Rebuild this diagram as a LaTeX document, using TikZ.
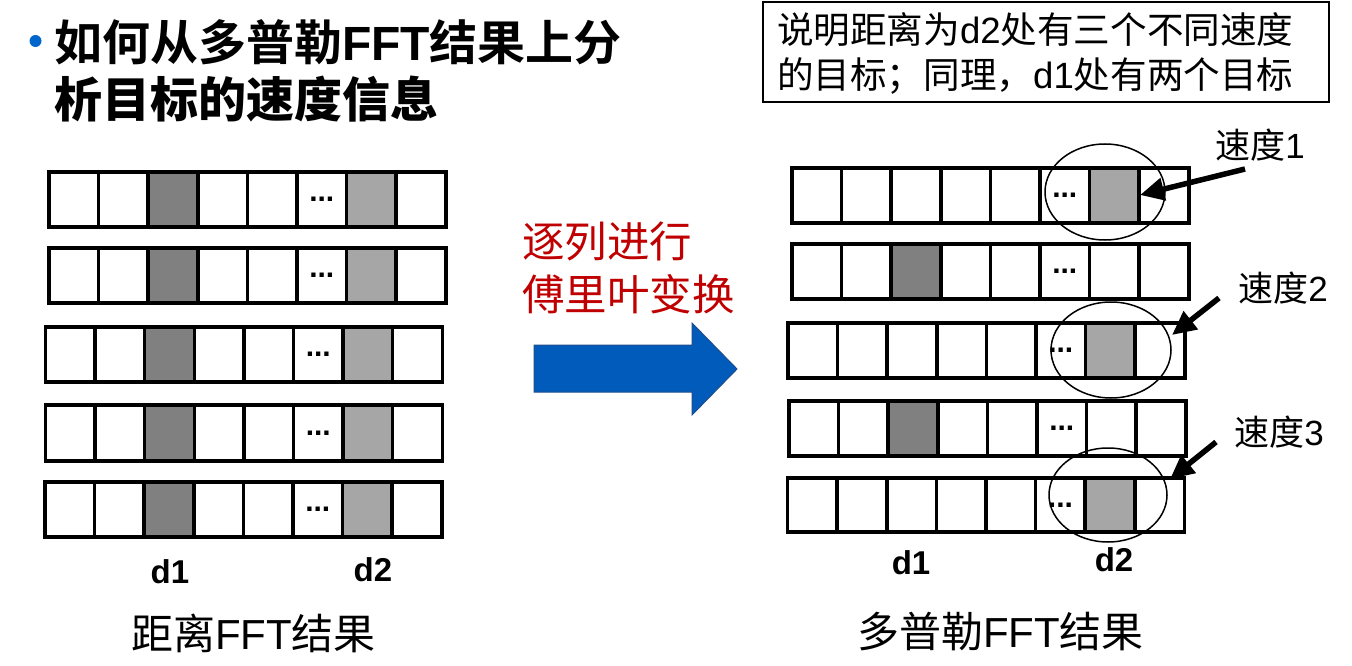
\documentclass[tikz,border=0pt]{standalone}
\usepackage{fontspec}
\setmainfont{Liberation Sans}
\newfontfamily\zh{Noto Sans CJK SC}
\newfontfamily\zhheavy{Noto Sans CJK SC Black}
\usetikzlibrary{arrows.meta,shapes.geometric}
\definecolor{dgray}{RGB}{128,128,128}
\definecolor{lgray}{RGB}{166,166,166}
\definecolor{arrowblue}{RGB}{0,91,187}
\definecolor{arrowedge}{RGB}{31,78,140}
\definecolor{bulletblue}{RGB}{0,102,204}
\definecolor{txtred}{RGB}{192,0,0}
\begin{document}
\begin{tikzpicture}[x=1pt,y=-1pt,
  txt/.style={inner sep=0pt,outer sep=0pt},
  gridline/.style={line width=3.5pt},
  dotsnode/.style={inner sep=0pt,font=\bfseries\fontsize{30}{30}\selectfont},
  ring/.style={ellipse,draw,line width=1.5pt,inner sep=0pt},
  pointer/.style={line width=5.5pt,-{Triangle[length=24pt,width=22pt]}},
  dlabel/.style={txt,font=\bfseries\fontsize{33}{36}\selectfont},
  vlabel/.style={txt,font=\fontsize{35}{40}\selectfont}]
\useasboundingbox (0,0) rectangle (1352,666);
\fill[white] (0,0) rectangle (1352,666);

% ---------- title ----------
\node[circle,fill=bulletblue,minimum size=12pt,inner sep=0pt] (bul) at (35.5,41) {};
\node[txt,anchor=west] (title1) at (54,42)
  {\fontsize{48}{58}\selectfont\bfseries{\zhheavy 如何从多普勒}FFT{\zhheavy 结果上分}};
\node[txt,anchor=west] (title2) at (54,99)
  {\fontsize{48}{58}\selectfont{\zhheavy 析目标的速度信息}};

% ---------- grids ----------
\def\cw{49.6}
\foreach \x/\ya/\yb/\dk/\lt [count=\r] in {
   49/172/227/2/6, 49/248/303/2/6, 45.5/327/382/2/6, 45.5/405/461/2/6, 45/482/537/2/6,
   792/168/223/-1/6, 792/244/299/2/-1, 788/323/378/-1/6, 789/401/456/2/-1, 787.6/478/532/-1/6}{
  \ifnum\dk>-1 \fill[dgray] (\x+\dk*\cw,\ya) rectangle (\x+\dk*\cw+\cw,\yb); \fi
  \ifnum\lt>-1 \fill[lgray] (\x+\lt*\cw,\ya) rectangle (\x+\lt*\cw+\cw,\yb); \fi
  \draw[gridline] (\x,\ya) rectangle (\x+8*\cw,\yb);
  \foreach \i in {1,...,7}{
    \draw[gridline] (\x+\i*\cw,\ya) -- (\x+\i*\cw,\yb);
  }
  \node[dotsnode] (dots\r) at (\x+5.5*\cw,{(\ya+\yb)/2}) {...};
}

% ---------- left labels ----------
\node[dlabel] (ld1) at (170,572) {d1};
\node[dlabel] (ld2) at (373,570) {d2};
\node[txt,font=\fontsize{42}{48}\selectfont] (lcap) at (253.5,633) {{\zh 距离}FFT{\zh 结果}};

% ---------- middle ----------
\node[txt,anchor=west,text=txtred,font=\fontsize{42.5}{48}\selectfont\zh] (mid1) at (522,241) {逐列进行};
\node[txt,anchor=west,text=txtred,font=\fontsize{42.5}{48}\selectfont\zh] (mid2) at (522,294) {傅里叶变换};
\filldraw[fill=arrowblue,draw=arrowedge,line width=1pt,line join=miter]
  (534,345) -- (692,345) -- (692,323) -- (737,369) -- (692,415) -- (692,392) -- (534,392) -- cycle;

% ---------- note box ----------
\node[draw,line width=2pt,minimum width=566pt,minimum height=100pt,inner sep=0pt] (box) at (1046,52) {};
\node[txt,anchor=west,font=\fontsize{36.6}{40}\selectfont] (note1) at (777,30) {{\zh 说明距离为}d2{\zh 处有三个不同速度}};
\node[txt,anchor=west,font=\fontsize{36.6}{40}\selectfont] (note2) at (777,76) {{\zh 的目标；同理，}d1{\zh 处有两个目标}};

% ---------- right rings, pointers ----------
\node[ring,minimum width=120pt,minimum height=96pt] (e1) at (1105,192) {};
\node[ring,minimum width=120pt,minimum height=96pt] (e2) at (1111,350) {};
\node[ring,minimum width=118pt,minimum height=94pt] (e3) at (1108,495) {};

\node[vlabel] (v1) at (1260,145) {{\zh 速度}1};
\node[vlabel] (v2) at (1283,288) {{\zh 速度}2};
\node[vlabel] (v3) at (1279,432) {{\zh 速度}3};

\coordinate (s1) at (1245,169); \coordinate (t1) at (1140,195);
\coordinate (s2) at (1219,298); \coordinate (t2) at (1172,335);
\coordinate (s3) at (1216,442); \coordinate (t3) at (1170,479);
\draw[pointer] (s1) -- (t1);
\draw[pointer] (s2) -- (t2);
\draw[pointer] (s3) -- (t3);

% ---------- right labels ----------
\node[dlabel] (rd1) at (911,563) {d1};
\node[dlabel] (rd2) at (1114,560) {d2};
\node[txt,font=\fontsize{42}{48}\selectfont] (rcap) at (1000.5,632) {{\zh 多普勒}FFT{\zh 结果}};
\end{tikzpicture}
\end{document}
